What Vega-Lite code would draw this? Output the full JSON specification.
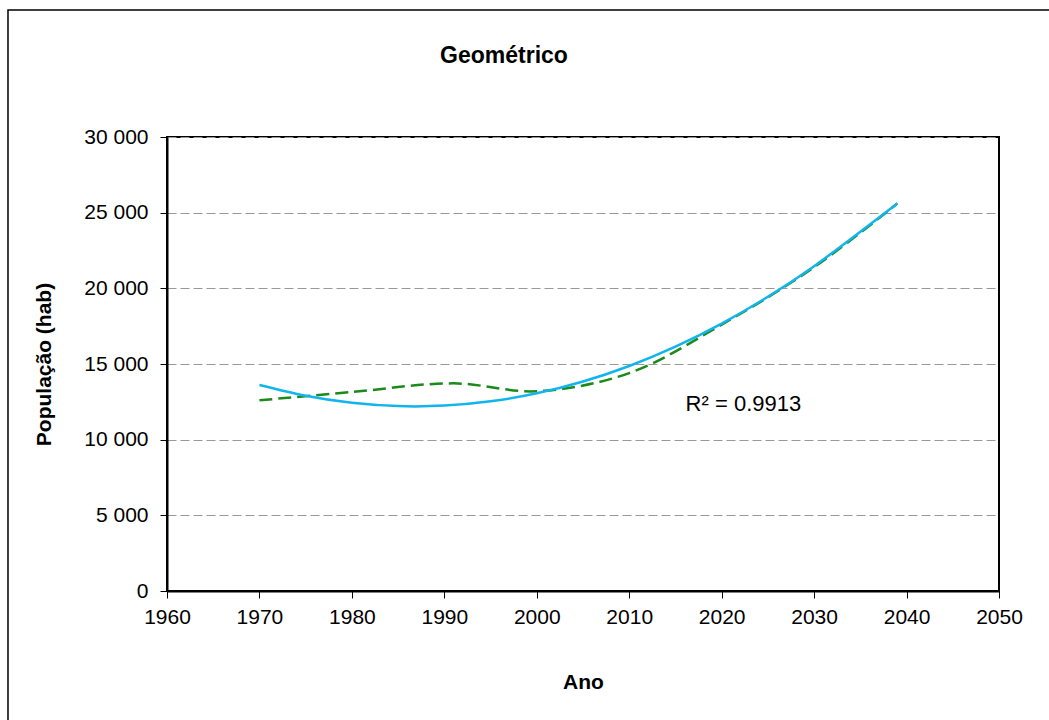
{
  "$schema": "https://vega.github.io/schema/vega-lite/v6.json",
  "width": 832,
  "height": 454,
  "autosize": {"type": "none"},
  "padding": {"left": 167, "top": 137, "right": 50, "bottom": 129},
  "background": "white",
  "title": {
    "text": "Geométrico",
    "font": "Liberation Sans",
    "fontSize": 23,
    "fontWeight": "bold",
    "color": "black",
    "anchor": "middle",
    "baseline": "middle",
    "dx": -79,
    "offset": -70
  },
  "datasets": {
    "dados": [
      {"ano": 1970, "pop": 12600},
      {"ano": 1980, "pop": 13150},
      {"ano": 1991, "pop": 13720},
      {"ano": 2000, "pop": 13200},
      {"ano": 2010, "pop": 14400},
      {"ano": 2020, "pop": 17600},
      {"ano": 2030, "pop": 21400},
      {"ano": 2039, "pop": 25600}
    ],
    "tendencia": [
      {"ano": 1970, "pop": 13612},
      {"ano": 1975, "pop": 12898},
      {"ano": 1980, "pop": 12434},
      {"ano": 1985, "pop": 12217},
      {"ano": 1990, "pop": 12250},
      {"ano": 1995, "pop": 12531},
      {"ano": 2000, "pop": 13061},
      {"ano": 2005, "pop": 13840},
      {"ano": 2010, "pop": 14868},
      {"ano": 2015, "pop": 16144},
      {"ano": 2020, "pop": 17669},
      {"ano": 2025, "pop": 19443},
      {"ano": 2030, "pop": 21466},
      {"ano": 2035, "pop": 23737},
      {"ano": 2039, "pop": 25600}
    ],
    "anotacao": [
      {"ano": 2016.1, "pop": 12357, "texto": "R² = 0.9913"}
    ],
    "moldura": [
      {"x0": 1942.8, "x1": 2080, "y0": 38392, "y1": -10000}
    ]
  },
  "layer": [
    {
      "data": {"name": "moldura"},
      "mark": {"type": "rect", "fill": null, "stroke": "black", "strokeWidth": 1.5, "clip": false},
      "encoding": {
        "x": {"field": "x0", "type": "quantitative", "scale": {"domain": [1960, 2050], "nice": false, "zero": false}},
        "x2": {"field": "x1"},
        "y": {"field": "y0", "type": "quantitative", "scale": {"domain": [0, 30000], "nice": false}},
        "y2": {"field": "y1"}
      }
    },
    {
      "data": {"name": "dados"},
      "mark": {"type": "line", "interpolate": "catmull-rom", "color": "#1a8a1a", "strokeWidth": 2.5, "strokeDash": [13, 6]},
      "encoding": {
        "x": {
          "field": "ano", "type": "quantitative", "title": "Ano",
          "scale": {"domain": [1960, 2050], "nice": false, "zero": false},
          "axis": {"values": [1960, 1970, 1980, 1990, 2000, 2010, 2020, 2030, 2040, 2050], "format": "d", "grid": false}
        },
        "y": {
          "field": "pop", "type": "quantitative", "title": "População (hab)",
          "scale": {"domain": [0, 30000], "nice": false},
          "axis": {"values": [0, 5000, 10000, 15000, 20000, 25000, 30000], "labelExpr": "replace(format(datum.value, ','), ',', ' ')", "grid": true}
        }
      }
    },
    {
      "data": {"name": "tendencia"},
      "mark": {"type": "line", "interpolate": "natural", "color": "#12b4ee", "strokeWidth": 2.5},
      "encoding": {
        "x": {"field": "ano", "type": "quantitative"},
        "y": {"field": "pop", "type": "quantitative"}
      }
    },
    {
      "data": {"name": "anotacao"},
      "mark": {"type": "text", "align": "left", "baseline": "middle", "font": "Liberation Sans", "fontSize": 22, "color": "black"},
      "encoding": {
        "x": {"field": "ano", "type": "quantitative"},
        "y": {"field": "pop", "type": "quantitative"},
        "text": {"field": "texto"}
      }
    }
  ],
  "config": {
    "view": {"stroke": "black", "strokeWidth": 2},
    "axis": {
      "labelFont": "Liberation Sans",
      "labelFontSize": 21,
      "labelColor": "black",
      "titleFont": "Liberation Sans",
      "titleFontSize": 21,
      "titleFontWeight": "bold",
      "titleColor": "black",
      "domainColor": "black",
      "domainWidth": 2,
      "tickColor": "black",
      "tickSize": 7,
      "tickWidth": 1,
      "gridColor": "#999999",
      "gridDash": [9, 4],
      "gridWidth": 1,
      "labelFlush": false,
      "labelOverlap": false
    },
    "axisX": {"labelPadding": 8, "titlePadding": 44},
    "axisY": {"labelPadding": 12, "titlePadding": 29}
  }
}
